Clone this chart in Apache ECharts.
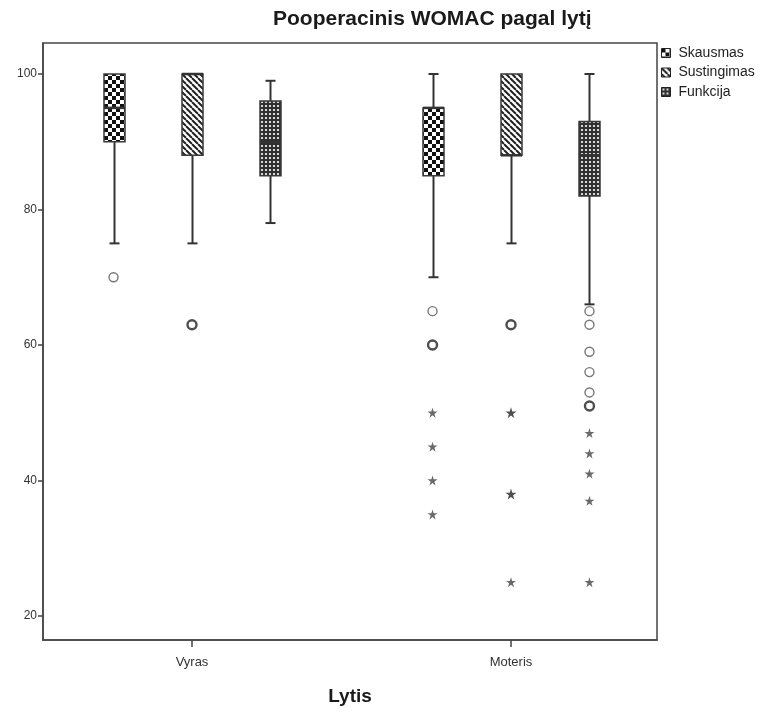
<!DOCTYPE html>
<html>
<head>
<meta charset="utf-8">
<script src="https://cdn.jsdelivr.net/npm/echarts@6/dist/echarts.min.js"></script>
<style>
  html, body { margin: 0; padding: 0; background: #fff; }
  #chart { width: 764px; height: 708px; }
</style>
</head>
<body>
<div id="chart"></div>
<script>
// Groups on the x axis and the three WOMAC subscales
const categories = ['Vyras', 'Moteris'];
const measures = ['Skausmas', 'Sustingimas', 'Funkcija'];
const yTicks = [20, 40, 60, 80, 100];

// Box summaries per group: [lower whisker, Q1, median, Q3, upper whisker]
const skausmas    = [[75, 90, 95, 100, 100], [70, 85, 95, 95, 100]];
const sustingimas = [[75, 88, 100, 100, 100], [75, 88, 88, 100, 100]];
const funkcija    = [[78, 85, 90, 96, 99], [66, 82, 88, 93, 100]];

// Outliers (circles) per group; repeated values are coinciding cases
const skausmasOutliers    = [[70], [65, 60, 60]];
const sustingimasOutliers = [[63, 63], [63, 63]];
const funkcijaOutliers    = [[], [65, 63, 59, 56, 53, 51, 51]];

// Extreme values (stars) per group
const skausmasExtremes    = [[], [50, 45, 40, 35]];
const sustingimasExtremes = [[], [50, 50, 38, 38, 25]];
const funkcijaExtremes    = [[], [47, 44, 41, 37, 25]];

const boxes = [skausmas, sustingimas, funkcija];
const outliers = [skausmasOutliers, sustingimasOutliers, funkcijaOutliers];
const extremes = [skausmasExtremes, sustingimasExtremes, funkcijaExtremes];

// ---- layout ----
const SERIES_OFFSET = 0.246;   // spacing of the three boxes inside a group (x units)
const BOX_W = 21;
const CAP_W = 10;
const LINE = '#333';

// ---- fill patterns ----
function makeCanvas(w, h) {
  const c = document.createElement('canvas');
  c.width = w; c.height = h;
  return c;
}
function checkerPattern() {
  const s = 4;
  const c = makeCanvas(2 * s, 2 * s), g = c.getContext('2d');
  g.fillStyle = '#fff'; g.fillRect(0, 0, 2 * s, 2 * s);
  g.fillStyle = '#111';
  g.fillRect(0, 0, s, s); g.fillRect(s, s, s, s);
  return { image: c, repeat: 'repeat' };
}
function stripePattern() {
  const s = 6;
  const c = makeCanvas(s, s), g = c.getContext('2d');
  g.fillStyle = '#fff'; g.fillRect(0, 0, s, s);
  g.strokeStyle = '#222'; g.lineWidth = 2;
  for (const d of [-s, 0, s]) {
    g.beginPath(); g.moveTo(d, 0); g.lineTo(d + s, s); g.stroke();
  }
  return { image: c, repeat: 'repeat' };
}
function dotPattern() {
  const s = 4;
  const c = makeCanvas(s, s), g = c.getContext('2d');
  g.fillStyle = '#303030'; g.fillRect(0, 0, s, s);
  g.fillStyle = '#fff';
  g.beginPath(); g.arc(2, 2, 1.1, 0, Math.PI * 2); g.fill();
  return { image: c, repeat: 'repeat' };
}
const patterns = [checkerPattern(), stripePattern(), dotPattern()];

function xPos(groupIndex, measureIndex) {
  return groupIndex + 1 + (measureIndex - 1) * SERIES_OFFSET;
}

function renderBox(params, api) {
  const x = api.value(0);
  const pLow = api.coord([x, api.value(1)]);
  const pQ1 = api.coord([x, api.value(2)]);
  const pMed = api.coord([x, api.value(3)]);
  const pQ3 = api.coord([x, api.value(4)]);
  const pHigh = api.coord([x, api.value(5)]);
  const cx = Math.round(pLow[0]) + 0.5;
  const fill = patterns[params.seriesIndex];
  const children = [];
  const line = (x1, y1, x2, y2, w) => ({
    type: 'line',
    shape: { x1, y1, x2, y2 },
    style: { stroke: LINE, lineWidth: w }
  });
  if (pHigh[1] < pQ3[1] - 0.5) {
    children.push(line(cx, pHigh[1], cx, pQ3[1], 2));
    children.push(line(cx - CAP_W / 2, pHigh[1], cx + CAP_W / 2, pHigh[1], 2));
  }
  if (pLow[1] > pQ1[1] + 0.5) {
    children.push(line(cx, pQ1[1], cx, pLow[1], 2));
    children.push(line(cx - CAP_W / 2, pLow[1], cx + CAP_W / 2, pLow[1], 2));
  }
  children.push({
    type: 'rect',
    shape: { x: cx - BOX_W / 2, y: pQ3[1], width: BOX_W, height: pQ1[1] - pQ3[1] },
    style: { fill: fill, stroke: '#3a3a3a', lineWidth: 1.5 }
  });
  children.push(line(cx - BOX_W / 2, pMed[1], cx + BOX_W / 2, pMed[1], 2.5));
  return { type: 'group', children };
}

// star outline used for extreme values
const STAR = 'path://M50,0 L61,35 L98,35 L68,57 L79,92 L50,70 L21,92 L32,57 L2,35 L39,35 Z';

function pointData(valuesPerGroup, measureIndex) {
  const data = [];
  valuesPerGroup.forEach((vals, gi) => {
    const counts = {};
    vals.forEach(v => { counts[v] = (counts[v] || 0) + 1; });
    Object.keys(counts).forEach(k => {
      data.push({ value: [xPos(gi, measureIndex), +k], count: counts[k] });
    });
  });
  return data;
}

const series = [];
measures.forEach((name, mi) => {
  series.push({
    name: name,
    type: 'custom',
    renderItem: renderBox,
    itemStyle: { color: patterns[mi] },
    encode: { x: 0, y: [1, 2, 3, 4, 5] },
    data: boxes[mi].map((b, gi) => [xPos(gi, mi)].concat(b)),
    z: 3,
    silent: true
  });
});
measures.forEach((name, mi) => {
  series.push({
    name: name + ' o',
    type: 'scatter',
    symbol: 'circle',
    symbolSize: 9,
    silent: true,
    z: 4,
    data: pointData(outliers[mi], mi).map(d => ({
      value: d.value,
      itemStyle: {
        color: '#fff',
        borderColor: d.count > 1 ? '#222' : '#555',
        borderWidth: d.count > 1 ? 2.4 : 1.4
      }
    }))
  });
  series.push({
    name: name + ' *',
    type: 'scatter',
    symbol: STAR,
    symbolSize: 10,
    silent: true,
    z: 4,
    data: pointData(extremes[mi], mi).map(d => ({
      value: d.value,
      symbolSize: d.count > 1 ? 11 : 10,
      itemStyle: { color: d.count > 1 ? '#222' : '#444' }
    }))
  });
});

const chart = echarts.init(document.getElementById('chart'), null, { renderer: 'canvas' });
chart.setOption({
  animation: false,
  backgroundColor: '#fff',
  title: {
    text: 'Pooperacinis WOMAC pagal lytį',
    left: 268,
    top: 4,
    textStyle: { fontFamily: 'Liberation Sans', fontSize: 21, fontWeight: 'bold', color: '#1a1a1a' }
  },
  legend: {
    orient: 'vertical',
    left: 661,
    top: 46,
    padding: 0,
    itemWidth: 9,
    itemHeight: 9,
    itemGap: 5.5,
    selectedMode: false,
    icon: 'rect',
    textStyle: { fontFamily: 'Liberation Sans', fontSize: 14, lineHeight: 14, color: '#222', padding: [0, 0, 0, 3] },
    data: measures.map((m, i) => ({
      name: m,
      itemStyle: { color: patterns[i], borderColor: '#222', borderWidth: 1 }
    }))
  },
  grid: {
    left: 43, right: 107, top: 43, bottom: 68,
    outerBoundsMode: 'none',
    containLabel: false,
    show: true, borderColor: '#444', borderWidth: 1.5, backgroundColor: '#fff'
  },
  xAxis: {
    type: 'value',
    min: 1 - 149 / 319,
    max: 2 + 146 / 319,
    name: 'Lytis',
    nameLocation: 'middle',
    nameGap: 47,
    nameTextStyle: { fontFamily: 'Liberation Sans', fontSize: 19, fontWeight: 'bold', color: '#1a1a1a' },
    splitLine: { show: false },
    axisLine: { show: true, lineStyle: { color: '#444', width: 1.5 } },
    axisTick: { show: true, customValues: [1, 2], length: 7, lineStyle: { color: '#444', width: 1.5 } },
    axisLabel: {
      customValues: [1, 2],
      formatter: v => categories[Math.round(v) - 1] || '',
      margin: 16,
      fontFamily: 'Liberation Sans', fontSize: 13, color: '#333'
    }
  },
  yAxis: {
    type: 'value',
    min: 100 - (640 - 74) / 6.775,
    max: 100 + (74 - 43) / 6.775,
    splitLine: { show: false },
    axisLine: { show: true, lineStyle: { color: '#444', width: 1.5 } },
    axisTick: { show: true, customValues: yTicks, length: 5, lineStyle: { color: '#444', width: 1.5 } },
    axisLabel: {
      customValues: yTicks,
      margin: 6,
      fontFamily: 'Liberation Sans', fontSize: 12, color: '#333'
    }
  },
  series: series
});
</script>
</body>
</html>
